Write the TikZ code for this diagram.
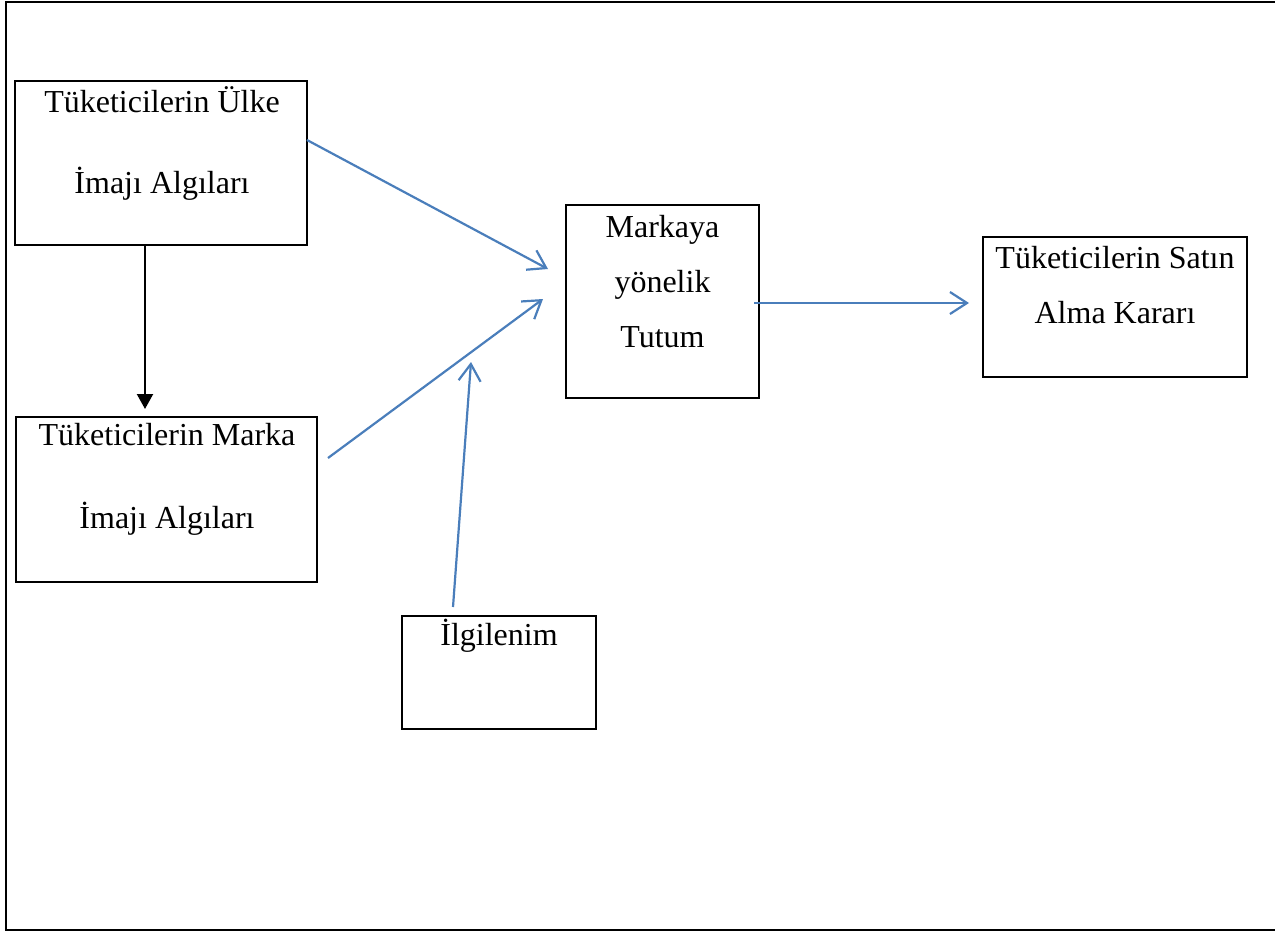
\documentclass[tikz,border=0pt]{standalone}
\usepackage{fontspec}
\setmainfont{Liberation Serif}
\usetikzlibrary{arrows.meta}
\definecolor{conblue}{HTML}{4A7EBB}
\tikzset{
  box/.style={draw=black, line width=2.4pt, inner sep=0pt, rectangle},
  txt/.style={inner sep=0pt, anchor=base, font=\fontsize{32}{38}\selectfont},
  bluearrow/.style={draw=conblue, line width=2.2pt, -{Straight Barb[length=17pt,width=22pt]}},
  blackarrow/.style={draw=black, line width=2.2pt, -{Triangle[length=15pt,width=16pt]}},
  frame/.style={draw=black, line width=2.4pt}
}
\begin{document}
\begin{tikzpicture}[x=1pt,y=-1pt]
\useasboundingbox (0,0) rectangle (1275,932);
% outer frame
\coordinate (f1) at (1275,2);
\coordinate (f2) at (6,2);
\coordinate (f3) at (6,930);
\coordinate (f4) at (1275,930);
\draw[frame] (f1) -- (f2) -- (f3) -- (f4);
% boxes
\node[box, minimum width=292pt, minimum height=164pt] (b1) at (161,163) {};
\node[box, minimum width=301pt, minimum height=165pt] (b2) at (166.5,499.5) {};
\node[box, minimum width=193pt, minimum height=193pt] (b3) at (662.5,301.5) {};
\node[box, minimum width=264pt, minimum height=140pt] (b4) at (1115,307) {};
\node[box, minimum width=194pt, minimum height=113pt] (b5) at (499,672.5) {};
% texts
\node[txt] (t1a) at (162,112) {Tüketicilerin Ülke};
\node[txt] (t1b) at (162,193) {İmajı Algıları};
\node[txt] (t2a) at (167,445) {Tüketicilerin Marka};
\node[txt] (t2b) at (167,528) {İmajı Algıları};
\node[txt] (t3a) at (662.5,237) {Markaya};
\node[txt] (t3b) at (662.5,292) {yönelik};
\node[txt] (t3c) at (662.5,347) {Tutum};
\node[txt] (t4a) at (1115,268) {Tüketicilerin Satın};
\node[txt] (t4b) at (1115,323) {Alma Kararı};
\node[txt] (t5a) at (499,645) {İlgilenim};
% connector ends
\coordinate (a1s) at (145,245);
\coordinate (a1e) at (145,409);
\coordinate (a2s) at (307,140);
\coordinate (a2e) at (548,269);
\coordinate (a3s) at (328,458);
\coordinate (a3e) at (543,299);
\coordinate (a4s) at (453,607);
\coordinate (a4e) at (471,362);
\coordinate (a5s) at (754,303);
\coordinate (a5e) at (969,303);
\draw[blackarrow] (a1s) -- (a1e);
\draw[bluearrow] (a2s) -- (a2e);
\draw[bluearrow] (a3s) -- (a3e);
\draw[bluearrow] (a4s) -- (a4e);
\draw[bluearrow] (a5s) -- (a5e);
\end{tikzpicture}
\end{document}
